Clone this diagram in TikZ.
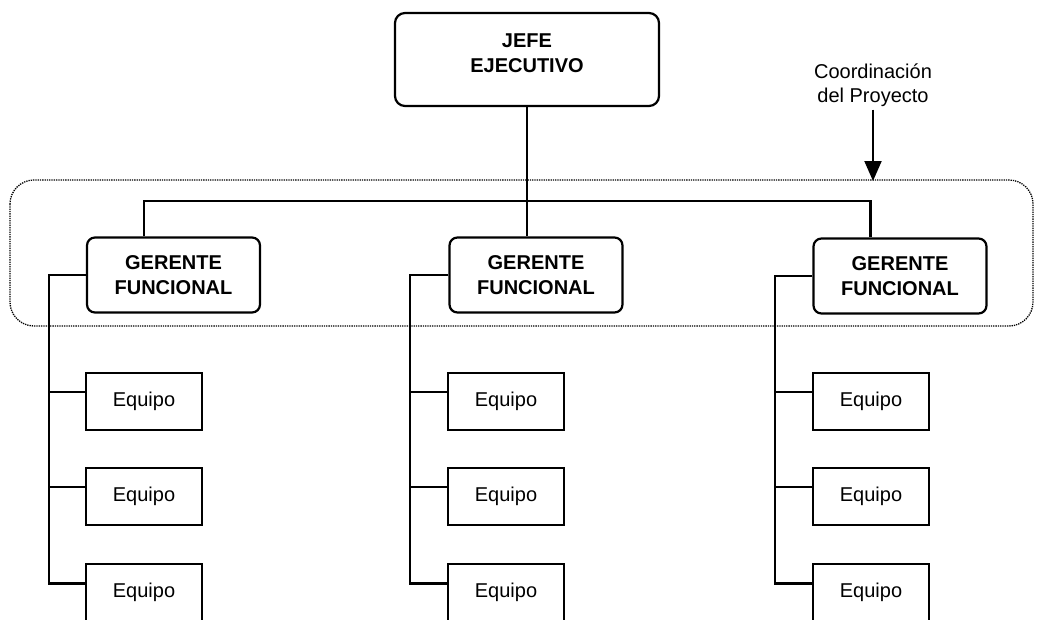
\documentclass[tikz,border=0pt]{standalone}
\usepackage{fontspec}
\setmainfont{Liberation Sans}
\usetikzlibrary{arrows.meta,calc}
\begin{document}
\begin{tikzpicture}[x=1pt,y=-1pt,
  txt/.style={font=\fontsize{20}{23.5}\selectfont},
  headbox/.style={draw,line width=2.2pt,rounded corners=10pt,minimum width=264pt,minimum height=93pt},
  mgrbox/.style={draw,line width=2.2pt,rounded corners=8pt,minimum width=173pt,minimum height=75pt,
    align=center,font=\fontsize{20}{24.5}\selectfont\bfseries},
  teambox/.style={draw,line width=2pt,minimum width=116pt,minimum height=57pt,txt},
  conn/.style={line width=2.2pt},
  coordframe/.style={line width=1.3pt,densely dotted,rounded corners=24pt}]
\useasboundingbox (0,0) rectangle (1037,619);
\clip (0,0) rectangle (1037,619);

% chief executive
\node[headbox,label={[yshift=6pt,align=center,font=\fontsize{20}{25}\selectfont\bfseries]center:JEFE\\EJECUTIVO}] (jefe) at (527,59.5) {};

% functional managers
\node[mgrbox] (m1) at (173.5,275) {GERENTE\\FUNCIONAL};
\node[mgrbox] (m2) at (536,275) {GERENTE\\FUNCIONAL};
\node[mgrbox] (m3) at (900,276) {GERENTE\\FUNCIONAL};

% teams
\foreach \c/\x in {1/144,2/506,3/871}{
  \node[teambox] (e\c1) at (\x,401) {Equipo};
  \node[teambox] (e\c2) at (\x,496) {Equipo};
  \node[teambox] (e\c3) at (\x,592.5) {Equipo};
}

% project coordination frame and label
\draw[coordframe] (10,180) rectangle (1033,326);
\node[txt,align=center] (coord) at (873,85) {Coordinación\\del Proyecto};
\coordinate (ftop) at (873,181);
\draw[line width=2pt,-{Triangle[width=17pt,length=20pt]}] (coord.south) -- (ftop);

% chief to managers
\coordinate (r1) at ($(m1.north west)+(58,0)$);
\coordinate (r2) at (jefe.south |- m2.north);
\coordinate (r3) at ($(m3.north west)+(58,0)$);
\coordinate (bar) at ($(jefe.south)+(0,93.5)$);
\draw[conn] (jefe.south) -- (r2);
\draw[conn] (r1) |- (bar) -| (r3);

% managers to teams
\foreach \c/\k in {1/49,2/410,3/775}{
  \coordinate (k\c) at (\k,0);
  \coordinate (t\c1) at ($(e\c1.west)+(0,-9)$);
  \coordinate (t\c2) at ($(e\c2.west)+(0,-9)$);
  \coordinate (t\c3) at ($(e\c3.west)+(0,-9)$);
  \draw[conn] (m\c.west) -- (m\c.west -| k\c) |- (t\c3);
  \draw[conn] (t\c1 -| k\c) -- (t\c1);
  \draw[conn] (t\c2 -| k\c) -- (t\c2);
}
\end{tikzpicture}
\end{document}
